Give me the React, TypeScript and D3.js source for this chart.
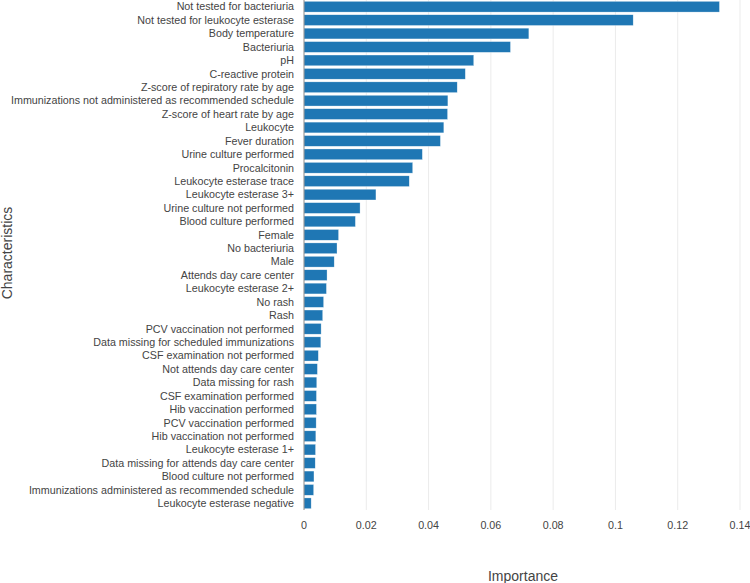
import React from "react";
import * as d3 from "d3";

const categories: string[] = [
  "Not tested for bacteriuria",
  "Not tested for leukocyte esterase",
  "Body temperature",
  "Bacteriuria",
  "pH",
  "C-reactive protein",
  "Z-score of repiratory rate by age",
  "Immunizations not administered as recommended schedule",
  "Z-score of heart rate by age",
  "Leukocyte",
  "Fever duration",
  "Urine culture performed",
  "Procalcitonin",
  "Leukocyte esterase trace",
  "Leukocyte esterase 3+",
  "Urine culture not performed",
  "Blood culture performed",
  "Female",
  "No bacteriuria",
  "Male",
  "Attends day care center",
  "Leukocyte esterase 2+",
  "No rash",
  "Rash",
  "PCV vaccination not performed",
  "Data missing for scheduled immunizations",
  "CSF examination not performed",
  "Not attends day care center",
  "Data missing for rash",
  "CSF examination performed",
  "Hib vaccination performed",
  "PCV vaccination performed",
  "Hib vaccination not performed",
  "Leukocyte esterase 1+",
  "Data missing for attends day care center",
  "Blood culture not performed",
  "Immunizations administered as recommended schedule",
  "Leukocyte esterase negative",
];

const importance: number[] = [
  0.1334, 0.1057, 0.0722, 0.0663, 0.0545, 0.0518, 0.0492, 0.0462, 0.0461, 0.0449,
  0.0438, 0.038, 0.0349, 0.0338, 0.0231, 0.018, 0.0165, 0.0111, 0.0106, 0.0097,
  0.0074, 0.0072, 0.0063, 0.006, 0.0055, 0.0054, 0.0046, 0.0043, 0.0041, 0.004,
  0.004, 0.0039, 0.0038, 0.0037, 0.0036, 0.0032, 0.0031, 0.0023,
];

const xTicks: number[] = [0, 0.02, 0.04, 0.06, 0.08, 0.1, 0.12, 0.14];
const xTickLabels: string[] = ["0", "0.02", "0.04", "0.06", "0.08", "0.1", "0.12", "0.14"];

const W = 750;
const H = 583;
const left = 304;
const right = 740;
const top = 0;
const bottom = 510;
const FONT = "'Liberation Sans', Arial, sans-serif";

export default function App() {
  const x = d3.scaleLinear().domain([0, 0.14]).range([left, right]);
  const y = d3.scaleBand<string>().domain(categories).range([top, bottom]).paddingInner(0.2).paddingOuter(0.1);

  return (
    <svg
      width={W}
      height={H}
      style={{ position: "absolute", left: 0, top: 0, display: "block", background: "#fff" }}
      fontFamily={FONT}
    >
      {xTicks.slice(1).map((t) => (
        <line key={"g" + t} x1={x(t)} x2={x(t)} y1={top} y2={bottom} stroke="#ebebeb" strokeWidth={1} />
      ))}
      {categories.map((c, i) => (
        <rect
          key={c}
          x={x(0)}
          y={y(c)!}
          width={x(importance[i]) - x(0)}
          height={y.bandwidth()}
          fill="#1f77b4"
          stroke="rgba(255,255,255,0.6)"
          strokeWidth={0.5}
        />
      ))}
      <line x1={x(0)} x2={x(0)} y1={top} y2={bottom} stroke="#8a8a8a" strokeWidth={1} />
      {categories.map((c) => (
        <text
          key={"l" + c}
          x={left - 10}
          y={y(c)! + y.bandwidth() / 2}
          dy="0.35em"
          textAnchor="end"
          fontSize={10.73}
          fill="#444"
        >
          {c}
        </text>
      ))}
      {xTicks.map((t, i) => (
        <text key={"t" + t} x={x(t)} y={529} textAnchor="middle" fontSize={10.73} fill="#444">
          {xTickLabels[i]}
        </text>
      ))}
      <text x={523} y={581} textAnchor="middle" fontSize={14} fill="#444">
        Importance
      </text>
      <text
        transform={`translate(12, 253) rotate(-90)`}
        textAnchor="middle"
        fontSize={14}
        fill="#444"
      >
        Characteristics
      </text>
    </svg>
  );
}
